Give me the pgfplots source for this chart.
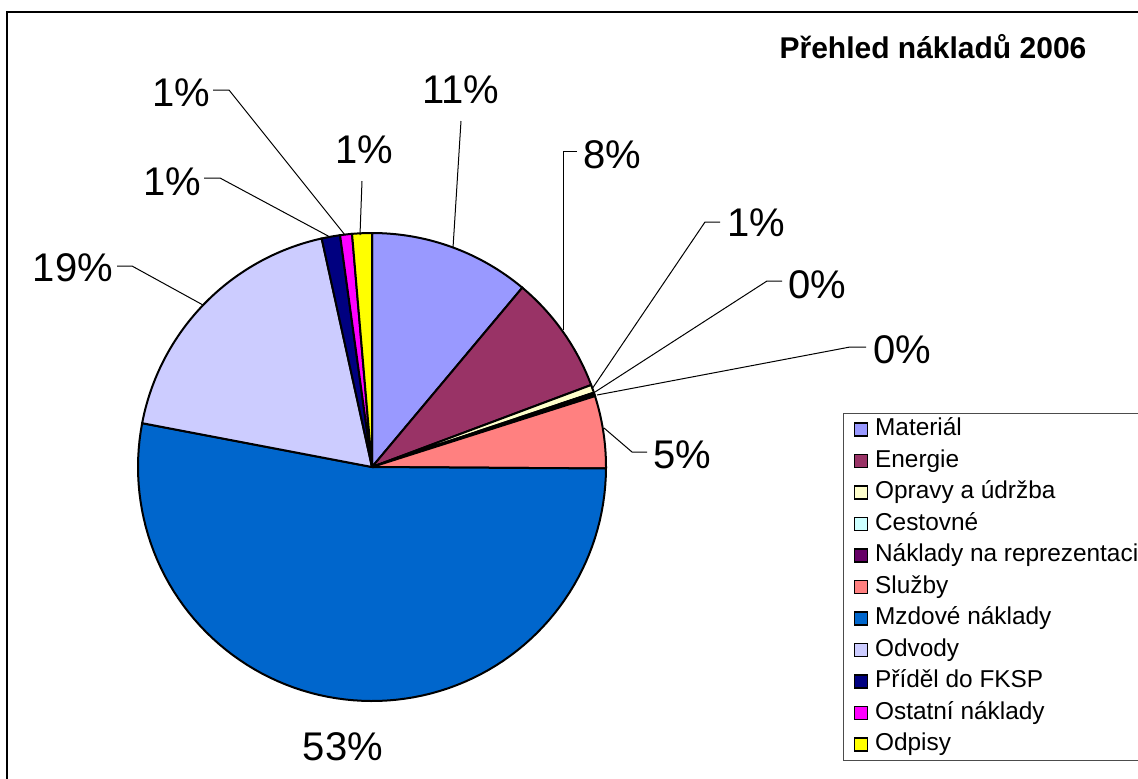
\documentclass[border=0pt]{standalone}
\usepackage{pgfplots}
\pgfplotsset{compat=1.18}
\usepackage{fontspec}
\setmainfont{Liberation Sans}

\definecolor{cMat}{HTML}{9999FF}
\definecolor{cEne}{HTML}{993366}
\definecolor{cOpr}{HTML}{FFFFCC}
\definecolor{cCes}{HTML}{CCFFFF}
\definecolor{cRep}{HTML}{660066}
\definecolor{cSlu}{HTML}{FF8080}
\definecolor{cMzd}{HTML}{0066CC}
\definecolor{cOdv}{HTML}{CCCCFF}
\definecolor{cFks}{HTML}{000080}
\definecolor{cOst}{HTML}{FF00FF}
\definecolor{cOdp}{HTML}{FFFF00}

% shares of the costs (percent)
\def\vMat{11.1}
\def\vEne{8.2}
\def\vOpr{0.55}
\def\vCes{0.15}
\def\vRep{0.1}
\def\vSlu{5.0}
\def\vMzd{52.9}
\def\vOdv{18.55}
\def\vFks{1.27}
\def\vOst{0.82}
\def\vOdp{1.36}

\pgfmathsetmacro\aA{-90}
\pgfmathsetmacro\aB{\aA+3.6*\vMat}
\pgfmathsetmacro\aC{\aB+3.6*\vEne}
\pgfmathsetmacro\aD{\aC+3.6*\vOpr}
\pgfmathsetmacro\aE{\aD+3.6*\vCes}
\pgfmathsetmacro\aF{\aE+3.6*\vRep}
\pgfmathsetmacro\aG{\aF+3.6*\vSlu}
\pgfmathsetmacro\aH{\aG+3.6*\vMzd}
\pgfmathsetmacro\aI{\aH+3.6*\vOdv}
\pgfmathsetmacro\aJ{\aI+3.6*\vFks}
\pgfmathsetmacro\aK{\aJ+3.6*\vOst}
\pgfmathsetmacro\aL{\aK+3.6*\vOdp}

\def\cx{372}
\def\cy{467}
\def\R{234}

\begin{document}
\begin{tikzpicture}
\begin{axis}[
  name=ax,
  width=569pt, height=389pt, scale only axis,
  xmin=0, xmax=1138, ymin=0, ymax=778,
  y dir=reverse,
  hide axis, clip=false,
  legend cell align=left,
  legend image code/.code={\draw[#1, draw=black, line width=0.6pt] (0pt,-3.25pt) rectangle (6.5pt,3.25pt); \path (10pt,0pt);},
  legend style={at={(axis cs:843,761)}, anchor=south west,
    draw=black!70, line width=0.5pt,
    inner xsep=5pt, inner ysep=2pt, row sep=3.75pt,
    font=\fontsize{12.2}{14}\selectfont,
    nodes={inner sep=0pt, text height=9pt, text depth=3pt}},
  every axis plot/.append style={draw=black, line width=1pt, samples=90, no markers},
]
\addplot[fill=cMat, domain=\aA:\aB] ({\cx+\R*cos(x)},{\cy+\R*sin(x)}) -- (axis cs:\cx,\cy) -- cycle;
\addlegendentry{Materiál}
\addplot[fill=cEne, domain=\aB:\aC] ({\cx+\R*cos(x)},{\cy+\R*sin(x)}) -- (axis cs:\cx,\cy) -- cycle;
\addlegendentry{Energie}
\addplot[fill=cOpr, domain=\aC:\aD] ({\cx+\R*cos(x)},{\cy+\R*sin(x)}) -- (axis cs:\cx,\cy) -- cycle;
\addlegendentry{Opravy a údržba}
\addplot[fill=cCes, domain=\aD:\aE] ({\cx+\R*cos(x)},{\cy+\R*sin(x)}) -- (axis cs:\cx,\cy) -- cycle;
\addlegendentry{Cestovné}
\addplot[fill=cRep, domain=\aE:\aF] ({\cx+\R*cos(x)},{\cy+\R*sin(x)}) -- (axis cs:\cx,\cy) -- cycle;
\addlegendentry{Náklady na reprezentaci}
\addplot[fill=cSlu, domain=\aF:\aG] ({\cx+\R*cos(x)},{\cy+\R*sin(x)}) -- (axis cs:\cx,\cy) -- cycle;
\addlegendentry{Služby}
\addplot[fill=cMzd, domain=\aG:\aH] ({\cx+\R*cos(x)},{\cy+\R*sin(x)}) -- (axis cs:\cx,\cy) -- cycle;
\addlegendentry{Mzdové náklady}
\addplot[fill=cOdv, domain=\aH:\aI] ({\cx+\R*cos(x)},{\cy+\R*sin(x)}) -- (axis cs:\cx,\cy) -- cycle;
\addlegendentry{Odvody}
\addplot[fill=cFks, domain=\aI:\aJ] ({\cx+\R*cos(x)},{\cy+\R*sin(x)}) -- (axis cs:\cx,\cy) -- cycle;
\addlegendentry{Příděl do FKSP}
\addplot[fill=cOst, domain=\aJ:\aK] ({\cx+\R*cos(x)},{\cy+\R*sin(x)}) -- (axis cs:\cx,\cy) -- cycle;
\addlegendentry{Ostatní náklady}
\addplot[fill=cOdp, domain=\aK:\aL] ({\cx+\R*cos(x)},{\cy+\R*sin(x)}) -- (axis cs:\cx,\cy) -- cycle;
\addlegendentry{Odpisy}

% outer frame
\draw[line width=1pt] (axis cs:7,800) -- (axis cs:7,12) -- (axis cs:1160,12);

% title
\node[font=\bfseries\fontsize{15}{18}\selectfont] at (axis cs:933,47) {Přehled nákladů 2006};

% leader lines
\begin{scope}[line width=0.5pt]
\draw (axis cs:213,90) -- (axis cs:229,90) -- (axis cs:345,235);
\draw (axis cs:204,178) -- (axis cs:220,178) -- (axis cs:330,237);
\draw (axis cs:362,181) -- (axis cs:360,235);
\draw (axis cs:461,121) -- (axis cs:453,248);
\draw (axis cs:577,151) -- (axis cs:563,151) -- (axis cs:563,330);
\draw (axis cs:720,222) -- (axis cs:705,222) -- (axis cs:592,389);
\draw (axis cs:782,281) -- (axis cs:767,281) -- (axis cs:595,392);
\draw (axis cs:866,347) -- (axis cs:850,347) -- (axis cs:597,395);
\draw (axis cs:647,452) -- (axis cs:632,452) -- (axis cs:604,428);
\draw (axis cs:117,266) -- (axis cs:132,266) -- (axis cs:203,305);
\end{scope}

% percentage labels
\begin{scope}[every node/.style={font=\fontsize{20}{24}\selectfont, inner sep=0pt}]
\node at (axis cs:181,93) {1\%};
\node at (axis cs:172,182) {1\%};
\node at (axis cs:364,150) {1\%};
\node at (axis cs:461,90) {11\%};
\node at (axis cs:612,155) {8\%};
\node at (axis cs:756,223) {1\%};
\node at (axis cs:817,285) {0\%};
\node at (axis cs:902,350) {0\%};
\node at (axis cs:682,455) {5\%};
\node at (axis cs:73,268) {19\%};
\node at (axis cs:343,747) {53\%};
\end{scope}
\end{axis}
\pgfresetboundingbox
\path[use as bounding box] (ax.south west) rectangle (ax.north east);
\end{tikzpicture}
\end{document}
